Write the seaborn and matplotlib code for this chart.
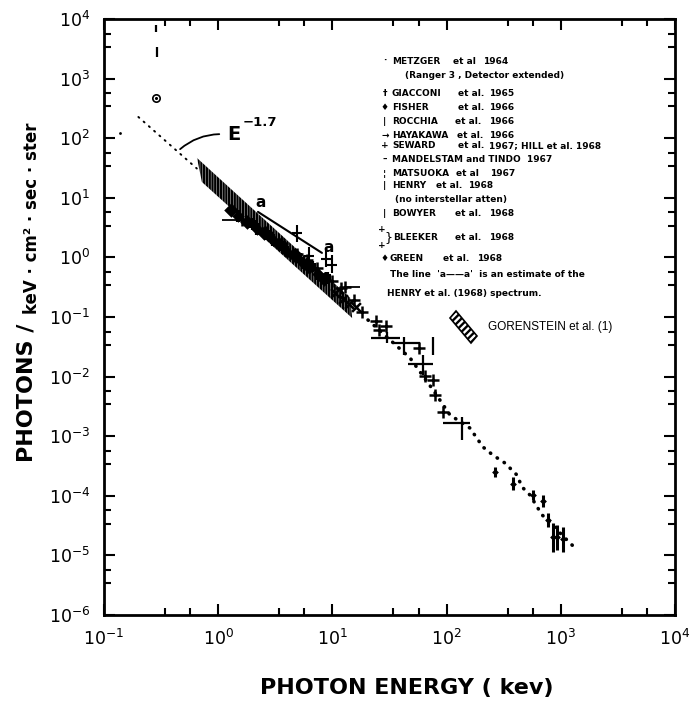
import matplotlib
matplotlib.use("Agg")
import matplotlib.pyplot as plt
import matplotlib.ticker as mticker
from matplotlib import font_manager as fm
from matplotlib.patches import Polygon
import numpy as np
import seaborn as sns

# ---------------- data ----------------
# E^-1.7 reference line (dotted) end points
ref_E = [0.20, 0.65]
ref_F = [227.0, 31.0]

# METZGER et al 1964 (Ranger 3) dotted spectrum
metz_E = [20.5, 47.9, 76, 107, 160, 208, 255, 324, 413, 457, 537, 684, 804, 1023, 1279]
metz_F = [0.089, 0.0205, 0.0060, 0.00227, 0.00137, 6.6e-4, 4.8e-4, 3.55e-4,
          2.23e-4, 1.41e-4, 1.03e-4, 4.8e-5, 3.6e-5, 2.2e-5, 1.44e-5]

# GORENSTEIN et al. hatched band (corners)
gor_E = [0.652, 14.3, 14.9, 0.72]
gor_F = [46.6, 0.21, 0.096, 18.4]

# HENRY et al. (1968) estimate  'a----a'
aa_E = [2.23, 8.1]
aa_F = [5.8, 1.19]

# soft points near 0.28 keV
bowyer_E = [0.285, 0.29]
bowyer_F = [7000.0, 2800.0]
bowyer_lo = [6000.0, 2300.0]
bowyer_hi = [8000.0, 3400.0]
henry_soft_E = [0.285]
henry_soft_F = [470.0]
lone_E = [0.138]
lone_F = [122.0]

# 1-15 keV dense band
giacconi_E = [1.5, 2.2, 3.0, 4.0, 5.5, 7.5]
giacconi_F = [5.0, 3.0, 1.95, 1.25, 0.80, 0.52]
giacconi_lo = [4.0, 2.4, 1.55, 1.0, 0.64, 0.42]
giacconi_hi = [6.2, 3.8, 2.45, 1.55, 1.0, 0.65]

fisher_E = [1.3, 1.8, 2.5, 3.4, 4.6, 6.3, 8.5]
fisher_F = [6.3, 4.0, 2.6, 1.7, 1.08, 0.68, 0.44]

rocchia_E = [2.0, 2.8, 3.8, 5.0, 6.6, 9.0]
rocchia_F = [3.6, 2.3, 1.5, 1.0, 0.70, 0.45]
rocchia_lo = [2.9, 1.85, 1.2, 0.8, 0.56, 0.36]
rocchia_hi = [4.5, 2.9, 1.9, 1.25, 0.88, 0.56]

henry_E = [4.9, 6.2, 8.8, 9.9]
henry_F = [2.6, 1.05, 0.95, 0.75]
henry_lo = [1.8, 0.75, 0.70, 0.55]
henry_hi = [3.5, 1.5, 1.33, 1.1]

hayakawa_E = [1.61, 12.9]
hayakawa_F = [4.2, 0.32]
hayakawa_Elo = [1.08, 12.9]
hayakawa_Ehi = [1.61, 17.5]

green_E = [10.5, 12.5, 14.0, 16.0]
green_F = [0.25, 0.20, 0.165, 0.15]

seward_E = [2.6, 3.6, 4.9, 6.0, 7.4, 10.0, 12.0, 15.5, 18.2, 24.1, 29.5, 25.6,
            57.3, 64.7, 76.0, 79.0, 93.0]
seward_F = [2.7, 1.75, 1.15, 0.92, 0.66, 0.40, 0.31, 0.19, 0.121, 0.086, 0.071,
            0.061, 0.030, 0.0102, 0.0088, 0.0049, 0.0025]

bleeker_E = [30.1, 42.4, 62.0, 76.0, 136.0]
bleeker_F = [0.044, 0.037, 0.0163, 0.031, 0.00166]
bleeker_Elo = [21.8, 34.0, 46.0, 76.0, 93.0]
bleeker_Ehi = [39.1, 58.5, 76.0, 76.0, 160.0]
bleeker_Flo = [0.036, 0.023, 0.0106, 0.023, 0.00086]
bleeker_Fhi = [0.055, 0.046, 0.023, 0.046, 0.0021]

hard_E = [265, 381, 571, 698, 772, 855, 927, 1045]
hard_F = [2.5e-4, 1.6e-4, 1.03e-4, 8.2e-5, 3.9e-5, 2.04e-5, 2.04e-5, 1.88e-5]
hard_lo = [2.07e-4, 1.25e-4, 8.5e-5, 6.5e-5, 3.0e-5, 1.14e-5, 1.23e-5, 1.14e-5]
hard_hi = [3.04e-4, 2.07e-4, 1.25e-4, 1.03e-4, 5.1e-5, 3.5e-5, 3.24e-5, 3.0e-5]

x_ticks = [0.1, 1, 10, 100, 1000, 10000]
x_ticklabels = [r'$10^{-1}$', r'$10^{0}$', r'$10^{1}$', r'$10^{2}$', r'$10^{3}$', r'$10^{4}$']
y_ticks = [1e-6, 1e-5, 1e-4, 1e-3, 1e-2, 1e-1, 1, 10, 100, 1000, 10000]
y_ticklabels = [r'$10^{-6}$', r'$10^{-5}$', r'$10^{-4}$', r'$10^{-3}$', r'$10^{-2}$',
                r'$10^{-1}$', r'$10^{0}$', r'$10^{1}$', r'$10^{2}$', r'$10^{3}$', r'$10^{4}$']

legend_symbols = ['·', '', '†', '♦', '|', '→', '+', '–', '¦', '|', '', '|', '', '♦', '', '']
legend_names = ['METZGER', '(Ranger 3 , Detector extended)', 'GIACCONI', 'FISHER', 'ROCCHIA',
                'HAYAKAWA', 'SEWARD', 'MANDELSTAM and TINDO  1967', 'MATSUOKA', 'HENRY',
                '(no interstellar atten)', 'BOWYER', 'BLEEKER', 'GREEN',
                "The line  'a——a'  is an estimate of the", 'HENRY et al. (1968) spectrum.']
legend_etal = ['et al', '', 'et al.', 'et al.', 'et al.', 'et al.', 'et al.', '', 'et al',
               'et al.', '', 'et al.', 'et al.', 'et al.', '', '']
legend_year = ['1964', '', '1965', '1966', '1966', '1966', '1967; HILL et al. 1968', '',
               '1967', '1968', '', '1968', '1968', '1968', '', '']

# ---------------- style ----------------
sns.set_theme(style='ticks')
names = {f.name for f in fm.fontManager.ttflist}
NARROW = 'Liberation Sans Narrow' if 'Liberation Sans Narrow' in names else 'DejaVu Sans'
plt.rcParams['font.family'] = ['DejaVu Sans']
plt.rcParams['mathtext.fontset'] = 'custom'
plt.rcParams['mathtext.rm'] = NARROW
plt.rcParams['mathtext.it'] = NARROW
plt.rcParams['mathtext.bf'] = NARROW + ':bold'
plt.rcParams['mathtext.default'] = 'rm'
plt.rcParams['hatch.color'] = 'black'
plt.rcParams['hatch.linewidth'] = 1.7
plt.rcParams['axes.unicode_minus'] = False

W, H = 694, 701
fig = plt.figure(figsize=(W / 100, H / 100), dpi=100, facecolor='white')
ax = fig.add_axes([104 / W, 1 - 615 / H, (675 - 104) / W, (615 - 19) / H])
ax.set_facecolor('white')
ax.set_xscale('log')
ax.set_yscale('log')

K = 'black'

# E^-1.7 dotted reference
sns.lineplot(x=ref_E, y=ref_F, ax=ax, color=K, lw=1.4, linestyle=(0, (0.6, 3.0)),
             dash_capstyle='round', estimator=None, sort=False)
# Metzger dotted spectrum
sns.lineplot(x=metz_E, y=metz_F, ax=ax, color=K, lw=2.6, linestyle=(0, (0.1, 2.2)),
             dash_capstyle='round', estimator=None, sort=False)

# Gorenstein hatched band
ax.fill(gor_E, gor_F, facecolor='none', edgecolor=K, hatch='||||||', linewidth=0)

# Henry a----a line
sns.lineplot(x=aa_E, y=aa_F, ax=ax, color=K, lw=1.5, estimator=None, sort=False)


def asym(v, lo, hi):
    v, lo, hi = np.asarray(v), np.asarray(lo), np.asarray(hi)
    return [v - lo, hi - v]


# soft points
ax.errorbar(bowyer_E, bowyer_F, yerr=asym(bowyer_F, bowyer_lo, bowyer_hi), fmt='none',
            ecolor=K, elinewidth=1.6)
sns.scatterplot(x=henry_soft_E, y=henry_soft_F, ax=ax, marker='o', s=28,
                facecolor='white', edgecolor=K, linewidth=1.2, legend=False)
sns.scatterplot(x=henry_soft_E, y=henry_soft_F, ax=ax, marker='o', s=5, color=K,
                linewidth=0, legend=False)
sns.scatterplot(x=lone_E, y=lone_F, ax=ax, marker='o', s=4, color=K, linewidth=0, legend=False)

# dense 1-15 keV data
ax.errorbar(giacconi_E, giacconi_F, yerr=asym(giacconi_F, giacconi_lo, giacconi_hi),
            fmt='none', ecolor=K, elinewidth=3.0)
sns.scatterplot(x=giacconi_E, y=giacconi_F, ax=ax, marker='D', s=40, color=K, linewidth=0,
                legend=False)
sns.scatterplot(x=fisher_E, y=fisher_F, ax=ax, marker='D', s=55, color=K, linewidth=0,
                legend=False)
ax.errorbar(rocchia_E, rocchia_F, yerr=asym(rocchia_F, rocchia_lo, rocchia_hi),
            fmt='none', ecolor=K, elinewidth=3.0)
sns.scatterplot(x=rocchia_E, y=rocchia_F, ax=ax, marker='s', s=40, color=K, linewidth=0,
                legend=False)
ax.errorbar(henry_E, henry_F, yerr=asym(henry_F, henry_lo, henry_hi),
            fmt='none', ecolor=K, elinewidth=1.5)
sns.scatterplot(x=henry_E, y=henry_F, ax=ax, marker='_', s=45, color=K, linewidth=1.5,
                legend=False)
ax.errorbar(hayakawa_E, hayakawa_F, xerr=asym(hayakawa_E, hayakawa_Elo, hayakawa_Ehi),
            fmt='none', ecolor=K, elinewidth=1.3)
sns.scatterplot(x=hayakawa_E, y=hayakawa_F, ax=ax, marker='+', s=70, color=K, linewidth=1.8,
                legend=False)
sns.scatterplot(x=green_E, y=green_F, ax=ax, marker='x', s=40, color=K, linewidth=1.8,
                legend=False)
sns.scatterplot(x=seward_E, y=seward_F, ax=ax, marker='+', s=85, color=K, linewidth=1.8,
                legend=False)

# Bleeker crosses
ax.errorbar(bleeker_E, bleeker_F, xerr=asym(bleeker_E, bleeker_Elo, bleeker_Ehi),
            yerr=asym(bleeker_F, bleeker_Flo, bleeker_Fhi), fmt='none', ecolor=K,
            elinewidth=1.6)
# hard X-ray bars
ax.errorbar(hard_E, hard_F, yerr=asym(hard_F, hard_lo, hard_hi), fmt='none', ecolor=K,
            elinewidth=2.2)
sns.scatterplot(x=hard_E, y=hard_F, ax=ax, marker='D', s=12, color=K, linewidth=0, legend=False)

# ---------------- axes ----------------
ax.set_xlim(0.1, 1e4)
ax.set_ylim(1e-6, 1e4)
ax.set_xticks(x_ticks, x_ticklabels)
ax.set_yticks(y_ticks, y_ticklabels)
fr = (0.535, 0.755)
ax.set_xticks([10 ** (d + f) for d in range(-1, 4) for f in fr], minor=True)
ax.set_yticks([10 ** (d + f) for d in range(-6, 4) for f in fr], minor=True)
ax.xaxis.set_minor_formatter(mticker.NullFormatter())
ax.yaxis.set_minor_formatter(mticker.NullFormatter())
tsize = 15 if NARROW != 'DejaVu Sans' else 12.5
ax.tick_params(which='both', direction='in', top=True, right=True, color=K, width=1.5,
               labelsize=tsize, labelcolor=K)
ax.tick_params(which='major', length=8)
ax.tick_params(which='minor', length=5)
ax.tick_params(axis='y', pad=10)
ax.tick_params(axis='x', pad=10)
for s in ax.spines.values():
    s.set_linewidth(2.0)
    s.set_color(K)
ax.set_xlabel('')
ax.set_ylabel('')


def fx(px):
    return px / W


def fy(py):
    return 1 - py / H


# axis titles
big = 20 if NARROW != 'DejaVu Sans' else 16
fig.text(fx(407), fy(688), 'PHOTON ENERGY ( kev)', ha='center', va='center',
         fontsize=big, fontweight='bold', family=NARROW, color=K)
fig.text(fx(32), fy(462), 'PHOTONS / ', rotation=90, rotation_mode='anchor', ha='left',
         va='baseline', fontsize=big, fontweight='bold', family=NARROW, color=K)
fig.text(fx(37), fy(314), 'keV · cm² · sec · ster', rotation=90, rotation_mode='anchor',
         ha='left', va='baseline', fontsize=12, fontweight='bold', family='DejaVu Sans',
         color=K)

# E^-1.7 label and leader
fig.text(fx(234), fy(134), 'E', ha='center', va='center', fontsize=14, fontweight='bold',
         family=NARROW, color=K)
fig.text(fx(243), fy(122), '−1.7', ha='left', va='center', fontsize=9.5, fontweight='bold',
         family='DejaVu Sans', color=K)
ax.annotate('', xy=(0.445, 61), xytext=(1.08, 117),
            arrowprops=dict(arrowstyle='-', connectionstyle='arc3,rad=0.2', lw=1.3, color=K))

# a labels
fig.text(fx(261), fy(203), 'a', ha='center', va='center', fontsize=11, fontweight='bold',
         family='DejaVu Sans', color=K)
fig.text(fx(329), fy(247), 'a', ha='center', va='center', fontsize=11, fontweight='bold',
         family='DejaVu Sans', color=K)

# legend block
row_y = [61, 75, 93, 107, 122, 136, 146, 159, 173, 186, 199, 213, 238, 258, 274, 294]
name_x = [392, 405, 392, 392, 392, 392, 392, 392, 392, 392, 395, 392, 393, 390, 390, 387]
etal_x = [453, 0, 458, 458, 455, 457, 458, 0, 456, 436, 0, 455, 455, 443, 0, 0]
year_x = [483, 0, 489, 489, 489, 489, 489, 0, 490, 468, 0, 489, 489, 477, 0, 0]
LF = dict(fontsize=6.5, fontweight='bold', family='DejaVu Sans', color=K, va='center')
for i in range(len(legend_names)):
    y = fy(row_y[i])
    if legend_symbols[i]:
        fig.text(fx(385), y, legend_symbols[i], ha='center', **LF)
    fig.text(fx(name_x[i]), y, legend_names[i], ha='left', **LF)
    if legend_etal[i]:
        fig.text(fx(etal_x[i]), y, legend_etal[i], ha='left', **LF)
    if legend_year[i]:
        fig.text(fx(year_x[i]), y, legend_year[i], ha='left', **LF)
# Bleeker stacked crosses with brace
fig.text(fx(382), fy(230), '+', ha='center', fontsize=6.5, fontweight='bold',
         family='DejaVu Sans', color=K, va='center')
fig.text(fx(382), fy(246), '+', ha='center', fontsize=6.5, fontweight='bold',
         family='DejaVu Sans', color=K, va='center')
fig.text(fx(388.5), fy(238), '}', ha='center', fontsize=9, family='DejaVu Sans', color=K,
         va='center')

# Gorenstein legend symbol
sym = Polygon([(fx(450), fy(318)), (fx(456), fy(311)), (fx(477), fy(336)), (fx(471), fy(343))],
              closed=True, transform=fig.transFigure, facecolor='none', edgecolor=K,
              hatch='/////', linewidth=1.2)
fig.add_artist(sym)
fig.text(fx(488), fy(327), 'GORENSTEIN et al. (1)', ha='left', va='center', fontsize=8.5,
         family='Liberation Sans', color=K)

fig.savefig('out.png', dpi=100, facecolor='white')
